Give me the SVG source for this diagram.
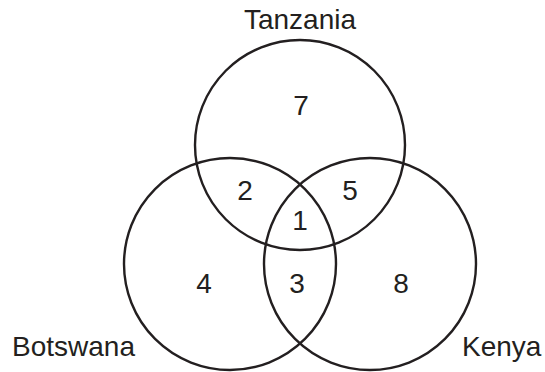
<svg xmlns="http://www.w3.org/2000/svg" width="545" height="372" viewBox="0 0 545 372">
<style>
.c{fill:none;stroke:#231f20;stroke-width:2.4}
.t{font-family:"Liberation Sans",Arial,sans-serif;font-size:28px;fill:#231f20}
.m{text-anchor:middle}
</style>
<rect width="545" height="372" fill="#fff"/>
<g id="tanzania"><circle class="c" cx="300" cy="145" r="105"/><text class="t m" x="300" y="29">Tanzania</text></g>
<g id="botswana"><circle class="c" cx="230" cy="264" r="106"/><text class="t" x="12" y="356">Botswana</text></g>
<g id="kenya"><circle class="c" cx="370" cy="264" r="106"/><text class="t" x="462" y="356">Kenya</text></g>
<g id="connectors"></g>
<g id="regions">
<text class="t m" x="301" y="115">7</text>
<text class="t m" x="245" y="200">2</text>
<text class="t m" x="350" y="200">5</text>
<text class="t m" x="300" y="230">1</text>
<text class="t m" x="204" y="293">4</text>
<text class="t m" x="297" y="293">3</text>
<text class="t m" x="401" y="293">8</text>
</g>
</svg>
